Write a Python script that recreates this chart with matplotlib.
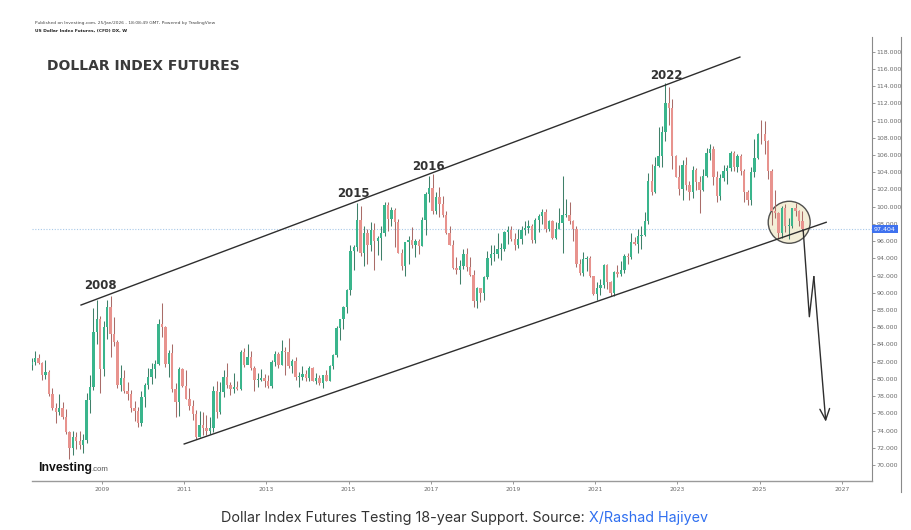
import matplotlib
matplotlib.use("Agg")
import matplotlib.pyplot as plt
from matplotlib.patches import Ellipse
from matplotlib.lines import Line2D
import numpy as np

# Monthly OHLC of US Dollar Index futures, April 2007 - January 2026
start_year, start_month = 2007, 4
first_open = 81.6

high = [
    82.4, 83.2, 82.9, 82.0, 82.2, 81.0, 78.9, 77.2, 78.3,                      # 2007
    77.3, 76.5, 74.0, 74.0, 73.8, 73.9, 73.6, 78.4, 80.4, 88.2, 89.2, 87.3,    # 2008
    86.7, 89.2, 89.6, 87.2, 84.5, 81.6, 81.0, 79.6, 78.7, 77.4, 76.7, 78.6,    # 2009
    79.5, 81.3, 81.8, 82.2, 87.0, 88.8, 86.2, 83.4, 84.1, 79.5, 81.4, 81.3,    # 2010
    81.0, 78.9, 77.5, 76.4, 76.3, 76.1, 75.8, 75.6, 79.2, 79.7, 79.6, 81.0,    # 2011
    81.8, 79.6, 80.7, 79.8, 83.3, 83.6, 84.1, 83.2, 81.5, 80.7, 81.2, 80.6,    # 2012
    80.4, 82.2, 83.2, 83.1, 84.5, 83.7, 84.8, 82.3, 82.6, 80.8, 81.5, 81.0,    # 2013
    81.5, 81.4, 80.7, 80.4, 80.5, 81.0, 81.6, 82.9, 86.1, 87.0, 88.5, 90.4,    # 2014
    95.5, 95.5, 100.4, 100.1, 97.8, 97.4, 98.2, 98.1, 96.6, 97.8, 100.5, 100.5,  # 2015
    100.0, 99.8, 98.6, 95.1, 95.9, 96.6, 97.6, 96.3, 96.2, 98.8, 101.7, 103.6,   # 2016
    103.8, 101.7, 102.3, 101.3, 99.5, 97.8, 96.1, 94.1, 93.8, 95.1, 95.2, 94.2,  # 2017
    92.6, 90.7, 90.6, 92.0, 94.8, 95.5, 95.6, 96.9, 95.8, 97.2, 97.7, 97.7,    # 2018
    96.9, 97.4, 97.7, 98.3, 98.4, 98.0, 98.7, 99.1, 99.7, 99.7, 98.5, 98.4,    # 2019
    98.2, 99.9, 103.6, 100.9, 100.6, 98.4, 97.8, 93.9, 94.7, 94.3, 94.3, 92.0,   # 2020
    91.3, 91.6, 93.4, 93.4, 91.4, 92.5, 93.2, 93.7, 94.5, 94.6, 96.9, 96.5,    # 2021
    97.4, 97.7, 99.4, 103.9, 105.0, 105.8, 109.2, 109.4, 114.4, 113.9, 112.5, 106.0,  # 2022
    104.9, 105.4, 105.8, 103.0, 104.7, 104.5, 103.6, 104.4, 106.8, 107.3, 107.1, 104.2,  # 2023
    103.8, 104.9, 104.8, 106.5, 106.5, 106.1, 106.1, 104.4, 101.9, 104.6, 107.9, 108.6,  # 2024
    110.1, 109.9, 107.7, 104.4, 101.9, 99.4, 100.1, 100.3, 98.7, 99.9, 100.4, 99.6,      # 2025
    99.5,                                                                      # 2026
]
low = [
    81.0, 81.6, 81.7, 79.9, 80.0, 78.0, 76.4, 74.9, 75.8,
    75.3, 73.6, 70.7, 71.2, 71.9, 71.8, 71.4, 72.6, 76.0, 78.7, 84.1, 78.4,
    80.3, 84.6, 82.6, 83.8, 78.9, 78.6, 78.4, 77.6, 76.1, 75.1, 74.4, 74.5,
    76.7, 78.8, 79.4, 80.1, 81.6, 84.9, 81.4, 80.2, 78.5, 75.6, 75.7, 79.0,
    77.7, 76.4, 75.2, 73.0, 73.2, 73.5, 73.5, 73.6, 73.8, 75.4, 75.9, 77.9,
    78.9, 78.1, 78.4, 78.7, 78.7, 81.4, 81.7, 81.0, 78.6, 79.1, 79.8, 79.1,
    78.9, 78.9, 81.5, 81.3, 81.6, 80.4, 81.3, 80.7, 79.9, 79.0, 79.9, 79.8,
    79.8, 79.7, 79.4, 79.3, 78.9, 79.8, 79.7, 81.1, 82.6, 84.5, 85.8, 87.6,
    89.8, 92.7, 94.9, 94.3, 93.1, 93.4, 94.9, 92.6, 94.4, 93.8, 96.6, 97.2,
    97.7, 95.3, 94.6, 92.6, 91.9, 93.4, 95.2, 94.1, 94.5, 95.4, 96.7, 100.6,
    99.2, 99.2, 98.8, 98.8, 96.8, 95.5, 92.8, 92.2, 91.0, 92.8, 92.5, 91.9,
    88.4, 88.2, 88.9, 89.2, 91.6, 93.2, 93.7, 94.0, 93.8, 94.8, 95.7, 96.0,
    95.0, 95.2, 95.7, 96.7, 97.0, 95.8, 95.8, 97.1, 98.0, 97.1, 97.2, 96.2,
    96.2, 97.4, 94.6, 98.8, 98.0, 96.0, 93.0, 92.1, 91.9, 92.5, 91.8, 89.7,
    89.2, 89.7, 90.6, 90.4, 89.6, 89.6, 91.8, 92.0, 92.3, 93.3, 93.9, 95.6,
    94.6, 95.1, 96.6, 98.0, 101.4, 101.6, 104.6, 104.6, 107.6, 109.5, 104.4, 103.4,
    101.4, 100.8, 101.9, 100.8, 101.0, 101.9, 99.3, 101.8, 103.4, 105.4, 102.5, 100.6,
    100.8, 103.0, 102.6, 104.1, 104.1, 104.0, 103.7, 100.6, 100.2, 100.2, 103.4, 105.5,
    107.3, 106.1, 103.2, 97.9, 98.7, 96.4, 96.4, 97.1, 96.2, 97.5, 98.9, 97.8,
    97.2,
]
close = [
    82.0, 82.4, 81.9, 80.5, 80.8, 78.3, 76.6, 76.2, 76.6,
    75.6, 73.8, 72.0, 73.2, 72.8, 72.3, 72.9, 77.5, 79.0, 85.4, 86.9, 81.2,
    86.0, 88.4, 85.2, 84.3, 79.3, 80.1, 78.6, 78.3, 76.6, 76.3, 74.9, 77.9,
    79.3, 80.2, 81.1, 81.7, 86.4, 86.0, 81.7, 83.0, 78.8, 77.3, 81.2, 79.2,
    77.7, 76.9, 75.9, 73.2, 74.6, 74.3, 74.0, 74.3, 78.6, 76.2, 78.5, 80.2,
    79.3, 78.8, 79.0, 78.8, 83.1, 81.6, 82.6, 81.3, 79.9, 79.9, 80.1, 79.8,
    79.2, 82.0, 82.9, 81.6, 83.2, 83.1, 81.5, 82.1, 80.2, 80.2, 80.6, 80.1,
    81.3, 79.7, 80.1, 79.5, 80.4, 79.8, 81.5, 82.8, 85.9, 86.9, 88.4, 90.3,
    94.8, 95.3, 98.4, 94.6, 96.9, 95.5, 97.3, 96.0, 96.4, 97.0, 100.2, 98.6,
    99.6, 98.2, 94.6, 93.1, 95.9, 96.1, 95.5, 96.0, 95.4, 98.4, 101.5, 102.2,
    99.5, 101.1, 100.3, 99.0, 97.0, 95.6, 92.9, 92.7, 93.1, 94.5, 93.0, 92.1,
    89.1, 90.6, 90.0, 91.8, 94.0, 94.5, 94.5, 95.1, 95.1, 97.1, 97.3, 96.2,
    95.6, 96.2, 97.3, 97.5, 97.8, 96.1, 98.5, 98.9, 99.4, 97.4, 98.3, 96.4,
    97.4, 98.1, 99.0, 99.0, 98.3, 97.4, 93.4, 92.3, 93.9, 94.0, 91.9, 89.9,
    90.6, 90.9, 93.2, 91.3, 90.0, 92.4, 92.2, 92.6, 94.3, 94.1, 95.9, 95.7,
    96.6, 96.7, 98.3, 103.0, 101.7, 104.7, 105.9, 108.7, 112.1, 111.5, 105.9, 103.5,
    102.1, 104.9, 102.5, 101.7, 104.3, 102.9, 101.9, 103.6, 106.2, 106.7, 103.5, 101.3,
    103.3, 104.2, 104.5, 106.2, 104.6, 105.9, 104.1, 101.7, 100.8, 104.0, 105.7, 108.5,
    108.4, 107.6, 104.2, 99.5, 99.3, 96.9, 99.9, 97.8, 97.8, 99.8, 99.5, 98.3,
    97.404,
]

year_ticks = list(range(2009, 2028, 2))
price_ticks = list(range(70, 119, 2))

# Hand-drawn annotations (decimal year, price)
upper_channel_t, upper_channel_v = [2008.49, 2024.52], [88.58, 117.38]
lower_channel_t, lower_channel_v = [2011.00, 2026.62], [72.44, 98.19]
projection_t = [2026.06, 2026.21, 2026.32, 2026.61]
projection_v = [97.29, 87.22, 91.87, 75.03]
focus_center = (2025.72, 98.19)
peak_labels = ["2008", "2015", "2016", "2022"]
peak_label_t = [2008.96, 2015.11, 2016.94, 2022.73]
peak_label_v = [90.79, 101.59, 104.72, 115.29]

W, H = 911, 530
fig = plt.figure(figsize=(W / 100, H / 100), dpi=100)
fig.patch.set_facecolor("white")
ax = fig.add_axes([32 / W, 49 / H, (871.7 - 32) / W, 444 / H])
ax.set_xlim(2007.297, 2027.727)
ax.set_ylim(68.14, 119.71)

# Candles
hi = np.array(high)
lo = np.array(low)
cl = np.array(close)
op = np.r_[first_open, cl[:-1]]
n = len(cl)
t = start_year + (start_month - 1 + np.arange(n) + 0.5) / 12
up = cl >= op
body_col = np.where(up, "#3ab58c", "#e8938e")
wick_col = np.where(up, "#3f8069", "#a96c68")
ax.vlines(t, lo, hi, colors=wick_col, lw=0.75, zorder=3)
ax.bar(t, np.maximum(np.abs(cl - op), 0.1), bottom=np.minimum(op, cl),
       width=0.058, color=body_col, linewidth=0, zorder=4)

# Last price line and tag
last = cl[-1]
ax.axhline(last, color="#a9c9e8", lw=0.8, ls=(0, (1, 1.5)), zorder=1)
ax.annotate(f"{last:.3f}", xy=(1, last), xycoords=("axes fraction", "data"),
            xytext=(1.6, 0), textcoords="offset points", ha="left", va="center",
            fontsize=4.5, color="white", annotation_clip=False, zorder=10,
            bbox=dict(boxstyle="square,pad=0.3", fc="#3f72ef", ec="none"))

# Channel, focus circle and projected path
ax.plot(upper_channel_t, upper_channel_v, color="#2e2e2e", lw=1.0, zorder=5)
ax.plot(lower_channel_t, lower_channel_v, color="#2e2e2e", lw=1.0, zorder=5)
ax.add_patch(Ellipse(focus_center, width=42 / 41.11, height=42 / 8.61,
                     fc="#f1ecd0", ec="#333333", lw=1.0, alpha=0.85, zorder=2))
ax.plot(projection_t[:-1], projection_v[:-1], color="#2e2e2e", lw=1.0, zorder=5)
ax.annotate("", xy=(projection_t[-1], projection_v[-1]),
            xytext=(projection_t[-2], projection_v[-2]),
            arrowprops=dict(arrowstyle="->,head_length=0.8,head_width=0.35",
                            color="#2e2e2e", lw=1.0, shrinkA=0, shrinkB=0,
                            mutation_scale=10), zorder=5)

for lab, lt, lv in zip(peak_labels, peak_label_t, peak_label_v):
    ax.text(lt, lv, lab, ha="center", va="center", fontsize=8.5,
            fontweight="bold", color="#333333", zorder=6)

# Axes styling
for side in ("top", "left"):
    ax.spines[side].set_visible(False)
ax.spines["bottom"].set_color("#9a9a9a")
ax.spines["bottom"].set_linewidth(1.0)
ax.spines["right"].set_color("#8a8a8a")
ax.spines["right"].set_linewidth(0.8)
ax.yaxis.tick_right()
ax.set_yticks(price_ticks)
ax.set_yticklabels([f"{v:.3f}" for v in price_ticks])
ax.set_xticks(year_ticks)
ax.set_xticklabels([str(y) for y in year_ticks])
ax.tick_params(axis="y", length=2, width=0.6, color="#888888",
               labelsize=4.5, labelcolor="#6a6a6a", pad=1.5)
ax.tick_params(axis="x", length=2, width=0.6, color="#888888",
               labelsize=4.3, labelcolor="#6a6a6a", pad=2.5)

fig.add_artist(Line2D([901 / W, 901 / W], [1 - 37 / H, 1 - 492 / H],
                      transform=fig.transFigure, color="#8a8a8a", lw=0.8))

# Header texts
fig.text(35 / W, 1 - 23 / H,
         "Published on Investing.com, 25/Jan/2026 - 18:08:49 GMT, Powered by TradingView",
         fontsize=3.2, color="#444444", va="center")
fig.text(35 / W, 1 - 31 / H, "US Dollar Index Futures, (CFD) DX, W",
         fontsize=3.2, fontweight="bold", color="#222222", va="center")
fig.text(47 / W, 1 - 66 / H, "DOLLAR INDEX FUTURES", fontsize=10,
         fontweight="bold", color="#3a3a3a", va="center")

# Watermark
fig.text(38 / W, 1 - 471 / H, "Investing", fontsize=8.8, fontweight="bold",
         family="Liberation Sans", color="#111111", va="baseline")
fig.text(91 / W, 1 - 471 / H, ".com", fontsize=5.6,
         family="Liberation Sans", color="#555555", va="baseline")

# Caption
fig.text(589 / W, 1 - 522 / H, "Dollar Index Futures Testing 18-year Support. Source: ",
         fontsize=10.3, family="Inter", color="#333333", ha="right", va="baseline")
fig.text(589 / W, 1 - 522 / H, "X/Rashad Hajiyev",
         fontsize=10.3, family="Inter", color="#2f6ff0", ha="left", va="baseline")

fig.savefig("out.png", dpi=100)
